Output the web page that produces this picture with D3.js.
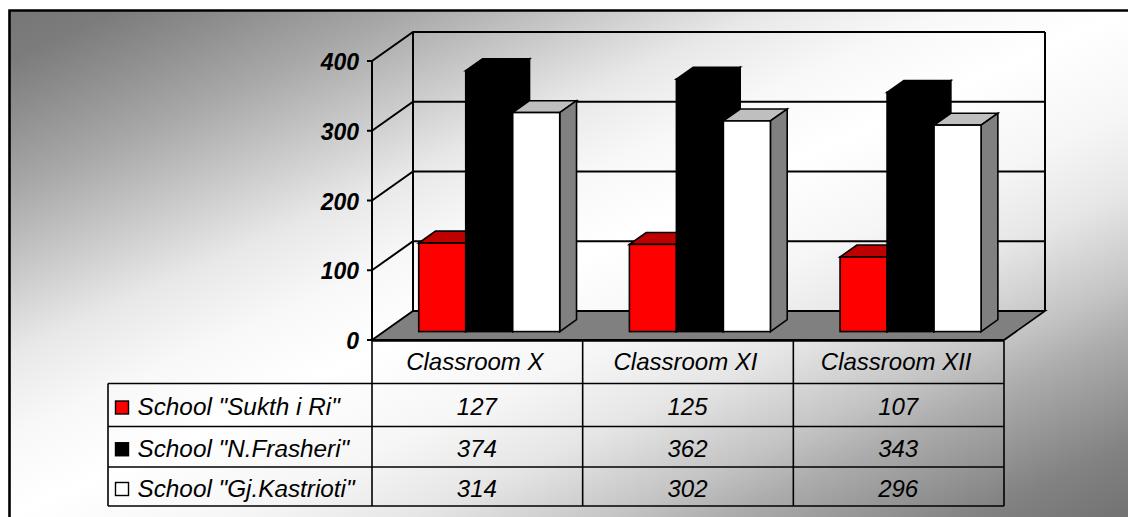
<!DOCTYPE html>
<html><head><meta charset="utf-8">
<script src="https://cdn.jsdelivr.net/npm/d3@7/dist/d3.min.js"></script>
<style>html,body{margin:0;padding:0;background:#fff}svg{display:block}text{font-family:"Liberation Sans",Arial,sans-serif;font-style:italic;fill:#000}</style>
</head><body><script>
const categories = ["Classroom X", "Classroom XI", "Classroom XII"];
const seriesNames = ['School "Sukth i Ri"', 'School "N.Frasheri"', 'School "Gj.Kastrioti"'];
const sukthValues = [127, 125, 107];
const frasheriValues = [374, 362, 343];
const kastriotiValues = [314, 302, 296];
const yTicks = [0, 100, 200, 300, 400];
const faceColors = ["#ff0000", "#000000", "#ffffff"];
const topColors = ["#bf0000", "#000000", "#bfbfbf"];
const sideColors = ["#800000", "#000000", "#808080"];
const seriesValues = [sukthValues, frasheriValues, kastriotiValues];

const W = 1128, H = 517;
const svg = d3.select("body").append("svg").attr("width", W).attr("height", H);
const defs = svg.append("defs");
const grad = defs.append("linearGradient").attr("id", "panel")
  .attr("x1", 0).attr("y1", 0).attr("x2", 1).attr("y2", 1);
[[0, "#767676"], [0.05, "#7c7c7c"], [0.105, "#8e8e8e"], [0.18, "#a8a8a8"], [0.25, "#c4c4c4"], [0.34, "#e8e8e8"], [0.42, "#f8f8f8"], [0.5, "#ffffff"], [0.6, "#f6f6f6"], [0.68, "#e6e6e6"], [0.77, "#c4c4c4"], [0.82, "#acacac"], [0.93, "#828282"], [1, "#727272"]]
  .forEach(([o, c]) => grad.append("stop").attr("offset", o).attr("stop-color", c));

// Panel fill with a heavy frame on the top and left edges
svg.append("rect").attr("x", 9).attr("y", 10).attr("width", W - 9).attr("height", H - 10).attr("fill", "url(#panel)");
svg.append("polyline").attr("points", `${W},10.5 9.5,10.5 9.5,${H}`).attr("fill", "none").attr("stroke", "#000").attr("stroke-width", 2.6);

// Box geometry
const x0 = 372, x1 = 1004, yBase = 340, yTop = 61, depthX = 41, depthY = 29;
const y = d3.scaleLinear().domain([0, 400]).range([yBase, yTop]);
const xCat = d3.scaleBand().domain(categories).range([x0, x1]).paddingInner(0).paddingOuter(0);
const groupWidth = 141;
const xSeries = d3.scaleBand().domain(d3.range(3)).range([0, groupWidth]);
const groupOffset = (xCat.bandwidth() - groupWidth) / 2;

const pts = a => a.map(p => p.join(",")).join(" ");
const g = svg.append("g");
const wall = 2;

// Back wall gridlines and side wall
yTicks.forEach(t => {
  const yy = y(t);
  if (t > 0) g.append("polyline").attr("points", pts([[x0, yy], [x0 + depthX, yy - depthY], [x1 + depthX, yy - depthY]])).attr("fill", "none").attr("stroke", "#000").attr("stroke-width", wall);
});
g.append("line").attr("x1", x0 + depthX).attr("x2", x0 + depthX).attr("y1", y(400) - depthY).attr("y2", y(0) - depthY).attr("stroke", "#000").attr("stroke-width", wall);
g.append("line").attr("x1", x1 + depthX).attr("x2", x1 + depthX).attr("y1", y(400) - depthY).attr("y2", y(0) - depthY).attr("stroke", "#000").attr("stroke-width", wall);

// Floor
g.append("polygon").attr("points", pts([[x0, yBase], [x0 + depthX, yBase - depthY], [x1 + depthX, yBase - depthY], [x1, yBase]]))
  .attr("fill", "#808080").attr("stroke", "#000").attr("stroke-width", 1.8);

// Value axis
g.append("line").attr("x1", x0).attr("x2", x0).attr("y1", yTop).attr("y2", yBase).attr("stroke", "#000").attr("stroke-width", wall);
yTicks.forEach(t => {
  g.append("line").attr("x1", x0 - 5).attr("x2", x0).attr("y1", y(t)).attr("y2", y(t)).attr("stroke", "#000").attr("stroke-width", wall);
  g.append("text").attr("x", x0 - 13).attr("y", y(t) + 9).attr("text-anchor", "end").attr("font-size", 23).attr("font-weight", "bold").text(t);
});

// 3-D columns, one cluster per classroom
const barFront = 0.29, barBack = 0.70;
categories.forEach((c, ci) => {
  seriesValues.forEach((vals, si) => {
    const v = vals[ci];
    const left = xCat(c) + groupOffset + xSeries(si) + depthX * barFront;
    const right = left + xSeries.bandwidth();
    const base = y(0) - depthY * barFront;
    const top = base - (y(0) - y(v));
    const dx = depthX * (barBack - barFront), dy = depthY * (barBack - barFront);
    const stroke = "#000";
    g.append("polygon").attr("points", pts([[left, top], [left + dx, top - dy], [right + dx, top - dy], [right, top]])).attr("fill", topColors[si]).attr("stroke", stroke).attr("stroke-width", 1.6);
    g.append("polygon").attr("points", pts([[right, top], [right + dx, top - dy], [right + dx, base - dy], [right, base]])).attr("fill", sideColors[si]).attr("stroke", stroke).attr("stroke-width", 1.6);
    g.append("rect").attr("x", left).attr("y", top).attr("width", right - left).attr("height", base - top).attr("fill", faceColors[si]).attr("stroke", stroke).attr("stroke-width", 1.6);
  });
});

// Data table
const tableLeft = 108, rowY = [yBase + 1, 383.5, 426.5, 467, 506];
const tg = svg.append("g");
const hLine = (xa, xb, yy) => tg.append("line").attr("x1", xa).attr("x2", xb).attr("y1", yy).attr("y2", yy).attr("stroke", "#000").attr("stroke-width", 1.6);
const vLine = (xx, ya, yb) => tg.append("line").attr("x1", xx).attr("x2", xx).attr("y1", ya).attr("y2", yb).attr("stroke", "#000").attr("stroke-width", 1.6);
hLine(x0, x1, rowY[0]);
rowY.slice(1).forEach(yy => hLine(tableLeft, x1, yy));
vLine(tableLeft, rowY[1], rowY[4]);
vLine(x0, rowY[0], rowY[4]);
categories.forEach(c => vLine(xCat(c) + xCat.bandwidth(), rowY[0], rowY[4]));

const fontSize = 24;
categories.forEach(c => {
  tg.append("text").attr("x", xCat(c) + xCat.bandwidth() / 2 - 2.5).attr("y", 370).attr("text-anchor", "middle").attr("font-size", fontSize).text(c);
});
seriesNames.forEach((name, si) => {
  const cy = (rowY[si + 1] + rowY[si + 2]) / 2;
  tg.append("rect").attr("x", 115.5).attr("y", cy - 4).attr("width", 13).attr("height", 13).attr("fill", faceColors[si]).attr("stroke", "#000").attr("stroke-width", 1.4);
  tg.append("text").attr("x", 137.5).attr("y", cy + 10).attr("font-size", fontSize + 0.3).text(name);
  categories.forEach((c, ci) => {
    tg.append("text").attr("x", xCat(c) + xCat.bandwidth() / 2 - 0.5).attr("y", cy + 10).attr("text-anchor", "middle").attr("font-size", fontSize).text(seriesValues[si][ci]);
  });
});
</script></body></html>
